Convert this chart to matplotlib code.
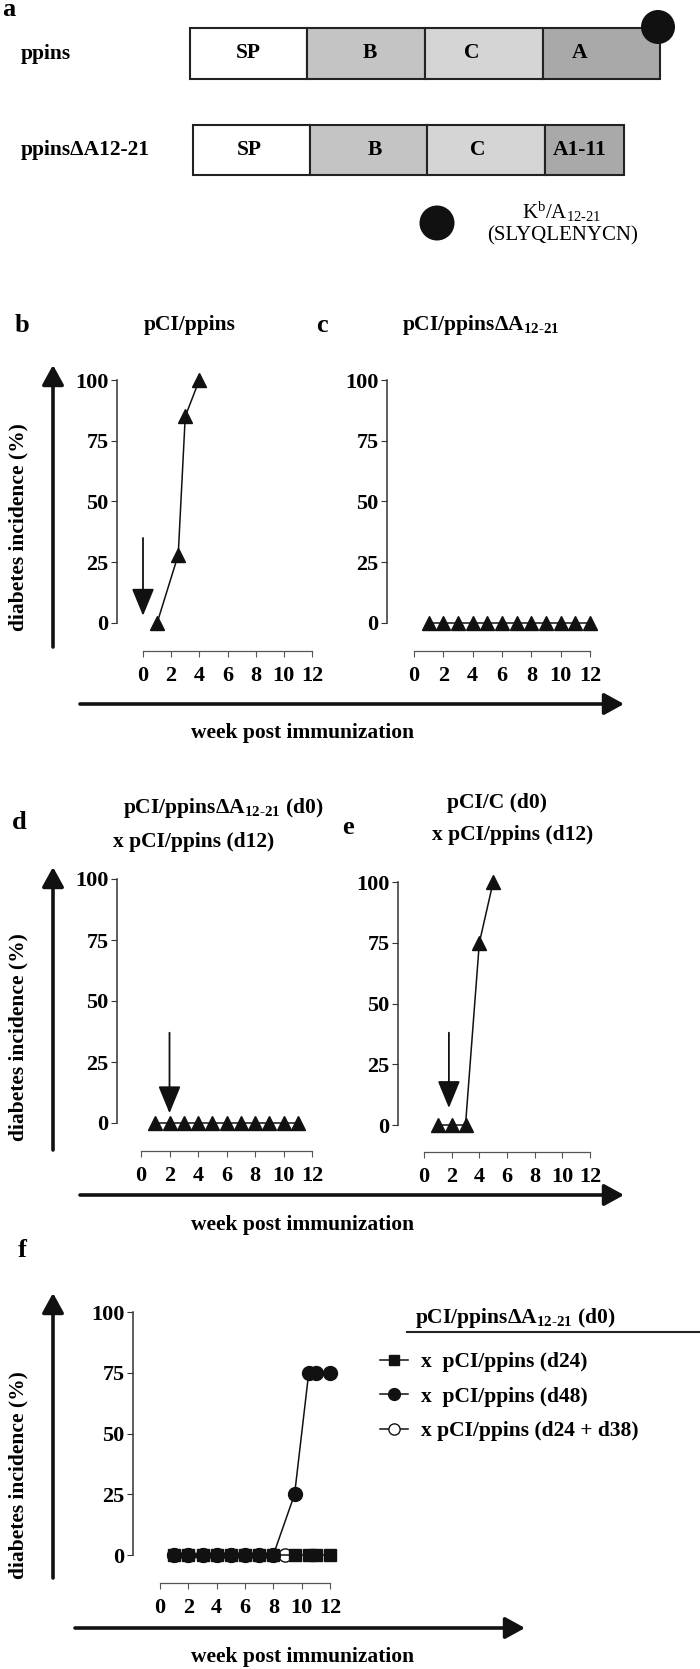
import matplotlib
matplotlib.use('Agg')
import matplotlib.pyplot as plt
from matplotlib.patches import Rectangle, Circle

plt.rcParams['font.family'] = ['Liberation Serif', 'DejaVu Serif']
plt.rcParams['font.weight'] = 'bold'
plt.rcParams['mathtext.default'] = 'regular'

# ---- data ----
ppins_parts = ['SP', 'B', 'C', 'A']
ppins_del_parts = ['SP', 'B', 'C', 'A1-11']
part_colors = ['white', '#c4c4c4', '#d5d5d5', '#a9a9a9']

b_week = [1, 2.5, 3, 4]
b_inc = [0, 28, 85, 100]
c_week = [1, 2, 3, 4, 5, 6, 7, 8, 9, 10, 11, 12]
c_inc = [0, 0, 0, 0, 0, 0, 0, 0, 0, 0, 0, 0]
d_week = [1, 2, 3, 4, 5, 6, 7, 8, 9, 10, 11]
d_inc = [0, 0, 0, 0, 0, 0, 0, 0, 0, 0, 0]
e_week = [1, 2, 3, 4, 5]
e_inc = [0, 0, 0, 75, 100]
f_week = [1, 2, 3, 4, 5, 6, 7, 8, 9.5, 10.5, 11, 12]
f_d24 = [0, 0, 0, 0, 0, 0, 0, 0, 0, 0, 0, 0]
f_d48 = [0, 0, 0, 0, 0, 0, 0, 0, 25, 75, 75, 75]
f_open_week = [1, 2, 3, 4, 5, 6, 7, 8, 8.8]
f_d24_d38 = [0, 0, 0, 0, 0, 0, 0, 0, 0]
f_labels = ['x  pCI/ppins (d24)', 'x  pCI/ppins (d48)', 'x pCI/ppins (d24 + d38)']

# immunization arrows: week, start %, tip %
b_arrow = [0, 35, 3]
d_arrow = [2, 37, 4]
e_arrow = [1.8, 38, 7]

yticks = [0, 25, 50, 75, 100]
xticks = [0, 2, 4, 6, 8, 10, 12]

W, H = 700, 1669
fig = plt.figure(figsize=(7, 16.69), dpi=100)
over = fig.add_axes([0, 0, 1, 1])
over.set_xlim(0, W)
over.set_ylim(H, 0)
over.axis('off')

FS = 15.5
sub = '$_{12\u201021}$'


def construct(y0, y1, edges, parts, text_x, label):
    for i, p in enumerate(parts):
        over.add_patch(Rectangle((edges[i], y0), edges[i + 1] - edges[i], y1 - y0,
                                 fc=part_colors[i], ec='#222222', lw=1.5))
        over.text(text_x[i], (y0 + y1) / 2, p, ha='center', va='center', fontsize=FS)
    over.text(21, (y0 + y1) / 2, label, ha='left', va='center', fontsize=FS)


# panel a
over.text(2, 16, 'a', fontsize=19, ha='left', va='baseline')
construct(28, 79, [190, 307, 425, 543, 660], ppins_parts, [248, 370, 472, 580], 'ppins')
construct(125, 175, [193, 310, 427, 545, 624], ppins_del_parts, [249, 375, 478, 580],
          'ppins\u0394A12-21')
over.add_patch(Circle((658, 27), 17, fc='#111111', ec='none', zorder=5))
over.add_patch(Circle((437, 223), 17.5, fc='#111111', ec='none'))
over.text(562, 212, 'K$^{b}$/A' + sub, ha='center', va='center', fontsize=15, fontweight='normal')
over.text(563, 236, '(SLYQLENYCN)', ha='center', va='center', fontsize=15, fontweight='normal')


def big_arrow(x0, y0, x1, y1):
    over.annotate('', xy=(x1, y1), xytext=(x0, y0),
                  arrowprops=dict(arrowstyle='-|>,head_length=0.6,head_width=0.33',
                                  mutation_scale=20, lw=2.6, color='#111111',
                                  shrinkA=0, shrinkB=0))


def data_axes(x0, x1, ytop, ybot, left_px, bottom_px):
    ax = fig.add_axes([x0 / W, 1 - ybot / H, (x1 - x0) / W, (ybot - ytop) / H])
    ax.patch.set_visible(False)
    ax.set_xlim(0, 12)
    ax.set_ylim(0, 100)
    for s in ['top', 'right']:
        ax.spines[s].set_visible(False)
    ax.spines['left'].set_position(('outward', left_px * 0.72))
    ax.spines['bottom'].set_position(('outward', bottom_px * 0.72))
    ax.spines['left'].set_color('#333333')
    ax.spines['bottom'].set_color('#555555')
    ax.spines['left'].set_linewidth(1.1)
    ax.spines['bottom'].set_linewidth(0.9)
    ax.set_xticks(xticks)
    ax.set_yticks(yticks)
    ax.tick_params(axis='y', length=4.5, width=0.8, pad=1.5, labelsize=16, color='#333333')
    ax.tick_params(axis='x', length=4.5, width=0.8, pad=6, labelsize=16, color='#555555')
    return ax


def immun_arrow(ax, arr):
    ax.annotate('', xy=(arr[0], arr[2]), xytext=(arr[0], arr[1]),
                arrowprops=dict(arrowstyle='-|>,head_length=0.68,head_width=0.28',
                                mutation_scale=25, lw=1.3, color='#111111',
                                shrinkA=0, shrinkB=0), annotation_clip=False)


tri = dict(marker='^', ms=10, color='#111111', lw=1.1, clip_on=False)

# panel b
ax_b = data_axes(143, 312, 380, 623, 26, 28)
ax_b.plot(b_week, b_inc, **tri)
immun_arrow(ax_b, b_arrow)
over.text(22, 325, 'b', fontsize=19, ha='center', va='center')
over.text(190, 325, 'pCI/ppins', fontsize=FS, ha='center', va='center')

# panel c
ax_c = data_axes(414, 590, 380, 623, 27, 28)
ax_c.plot(c_week, c_inc, **tri)
over.text(322, 325, 'c', fontsize=19, ha='center', va='center')
over.text(481, 325, 'pCI/ppins\u0394A' + sub, fontsize=FS, ha='center', va='center')

for yl in [527, 1037]:
    over.text(18, yl, 'diabetes incidence (%)', rotation=90, fontsize=FS, ha='center', va='center')
big_arrow(53, 647, 53, 365)
big_arrow(80, 704, 624, 704)
over.text(303, 733, 'week post immunization', fontsize=FS, ha='center', va='center')

# panel d
ax_d = data_axes(141, 312, 879, 1123, 24, 28)
ax_d.plot(d_week, d_inc, **tri)
immun_arrow(ax_d, d_arrow)
over.text(19, 822, 'd', fontsize=19, ha='center', va='center')
over.text(223, 808, 'pCI/ppins\u0394A' + sub + ' (d0)', fontsize=FS, ha='center', va='center')
over.text(194, 842, 'x pCI/ppins (d12)', fontsize=FS, ha='center', va='center')

# panel e
ax_e = data_axes(424, 590, 882, 1125, 26, 27)
ax_e.plot(e_week, e_inc, **tri)
immun_arrow(ax_e, e_arrow)
over.text(348, 827, 'e', fontsize=19, ha='center', va='center')
over.text(497, 803, 'pCI/C (d0)', fontsize=FS, ha='center', va='center')
over.text(513, 835, 'x pCI/ppins (d12)', fontsize=FS, ha='center', va='center')

big_arrow(53, 1150, 53, 867)
big_arrow(80, 1195, 624, 1195)
over.text(303, 1225, 'week post immunization', fontsize=FS, ha='center', va='center')

# panel f
ax_f = data_axes(160, 330, 1312, 1555, 27, 28)
h_open, = ax_f.plot(f_open_week, f_d24_d38, marker='o', ms=9.5, mfc='white', mec='#111111',
                    color='#111111', lw=1.1, clip_on=False)
h_d48, = ax_f.plot(f_week, f_d48, marker='o', ms=10, color='#111111', lw=1.1, clip_on=False)
h_d24, = ax_f.plot(f_week, f_d24, marker='s', ms=9, color='#111111', lw=1.1, clip_on=False)
over.text(22, 1250, 'f', fontsize=19, ha='center', va='center')
over.text(18, 1475, 'diabetes incidence (%)', rotation=90, fontsize=FS, ha='center', va='center')
big_arrow(53, 1578, 53, 1293)
big_arrow(75, 1628, 525, 1628)
over.text(303, 1657, 'week post immunization', fontsize=FS, ha='center', va='center')

over.text(415, 1318, 'pCI/ppins\u0394A' + sub + ' (d0)', fontsize=FS, ha='left', va='center')
over.plot([407, 700], [1332, 1332], color='#222222', lw=1.5)
fig.legend(handles=[h_d24, h_d48, h_open], labels=f_labels, loc='upper left',
           bbox_to_anchor=(380 / W, 1 - 1352 / H), frameon=False, fontsize=FS,
           handlelength=1.3, handletextpad=0.6, labelspacing=0.67, borderpad=0,
           borderaxespad=0, markerscale=0.85)

fig.savefig('out.png', dpi=100)
